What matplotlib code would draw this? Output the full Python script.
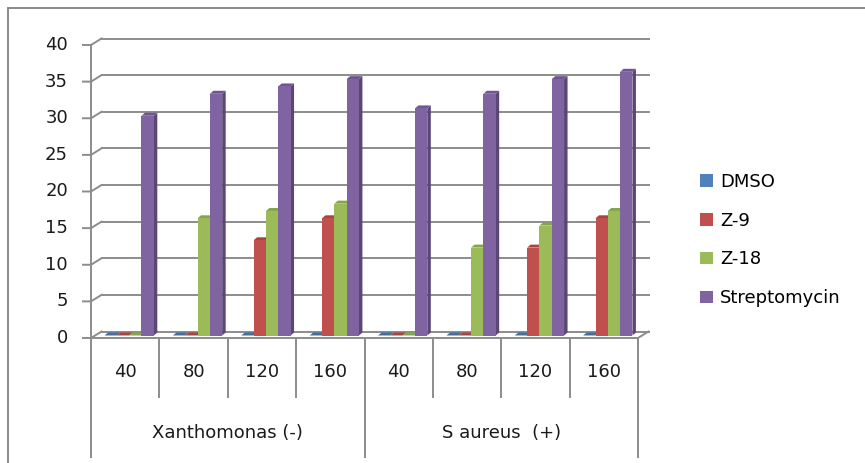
import numpy as np
import matplotlib.pyplot as plt
from matplotlib.patches import Polygon, Rectangle, Patch

# data
doses = ['40', '80', '120', '160', '40', '80', '120', '160']
groups = ['Xanthomonas (-)', 'S aureus  (+)']
series = ['DMSO', 'Z-9', 'Z-18', 'Streptomycin']
dmso = [0, 0, 0, 0, 0, 0, 0, 0]
z9 = [0, 0, 13, 16, 0, 0, 12, 16]
z18 = [0, 16, 17, 18, 0, 12, 15, 17]
strep = [30, 33, 34, 35, 31, 33, 35, 36]
yticks = [0, 5, 10, 15, 20, 25, 30, 35, 40]

front = ['#4F81BD', '#C0504D', '#9BBB59', '#8064A2']
side = ['#37597F', '#8A3532', '#6E8A3C', '#5B4676']
top = ['#43709F', '#A94441', '#86A44B', '#6F5690']
grid_c = '#8C8C8C'
txt_c = '#1A1A1A'
fs = 13

W, H = 865, 463
fig = plt.figure(figsize=(W / 100, H / 100), dpi=100)
ax = fig.add_axes([91 / W, 125 / H, 547 / W, 293 / H])
ax.set_xlim(0, 8)
ax.set_ylim(0, 40)
ax.axis('off')

# pixel -> data scale
sx = 8 / 547
sy = 40 / 293

# outer frame
fig.patches.append(Rectangle((8 / W, -0.1), 1, 1 - 8 / H + 0.1, transform=fig.transFigure,
                             fill=False, edgecolor='#8A8A8A', lw=1.4))

# back wall gridlines, with ticks and joins to the front axis
bx, by = 10.5 * sx, 6.5 * sy
for v in yticks:
    ax.plot([bx, 8 + bx], [v + by, v + by], color=grid_c, lw=1.4, clip_on=False, zorder=1)
    ax.plot([-8 * sx, 0, bx], [v, v, v + by], color=grid_c, lw=1.4, clip_on=False, zorder=1)
    ax.text(-23 * sx, v, str(v), ha='right', va='center', fontsize=fs, color=txt_c)

# floor front edge and right corner
ax.plot([0, 8, 8 + bx], [0, 0, by], color=grid_c, lw=1.4, clip_on=False, zorder=1)
ax.plot([0, 0], [40, -119 * sy], color=grid_c, lw=1.4, clip_on=False, zorder=1)

# category dividers and labels
for i in range(1, 9):
    depth = 119 if i in (4, 8) else 59
    ax.plot([i, i], [0, -depth * sy], color=grid_c, lw=1.4, clip_on=False, zorder=1)
for i, d in enumerate(doses):
    ax.text(i + 0.5, -34 * sy, d, ha='center', va='center', fontsize=fs, color=txt_c)
for g, name in enumerate(groups):
    ax.text(g * 4 + 2, -95 * sy, name, ha='center', va='center', fontsize=fs, color=txt_c)

# 3d bars
w = 0.18
ox, oy = 4 * sx, 2.5 * sy
dx, dy = 3.5 * sx, 3 * sy
values = [dmso, z9, z18, strep]
for i in range(8):
    for k in range(4):
        v = values[k][i]
        x = i + 0.5 - 2 * w + k * w + ox
        y0 = oy
        ax.add_patch(Polygon([(x + w, y0), (x + w, v + y0), (x + w + dx, v + y0 + dy), (x + w + dx, y0 + dy)],
                             closed=True, facecolor=side[k], edgecolor='none', clip_on=False, zorder=3))
        ax.add_patch(Polygon([(x, v + y0), (x + w, v + y0), (x + w + dx, v + y0 + dy), (x + dx, v + y0 + dy)],
                             closed=True, facecolor=top[k], edgecolor='none', clip_on=False, zorder=3))
        ax.add_patch(Rectangle((x, y0), w, v, facecolor=front[k], edgecolor='none',
                               clip_on=False, zorder=3))

handles = [Patch(facecolor=c, edgecolor='none') for c in front]
fig.legend(handles, series, loc='center left', bbox_to_anchor=(700 / W, 1 - 240 / H),
           frameon=False, fontsize=fs, handlelength=0.7, handleheight=0.7,
           handletextpad=0.4, labelspacing=1.15, borderpad=0, borderaxespad=0)

fig.savefig('out.png', dpi=100)
